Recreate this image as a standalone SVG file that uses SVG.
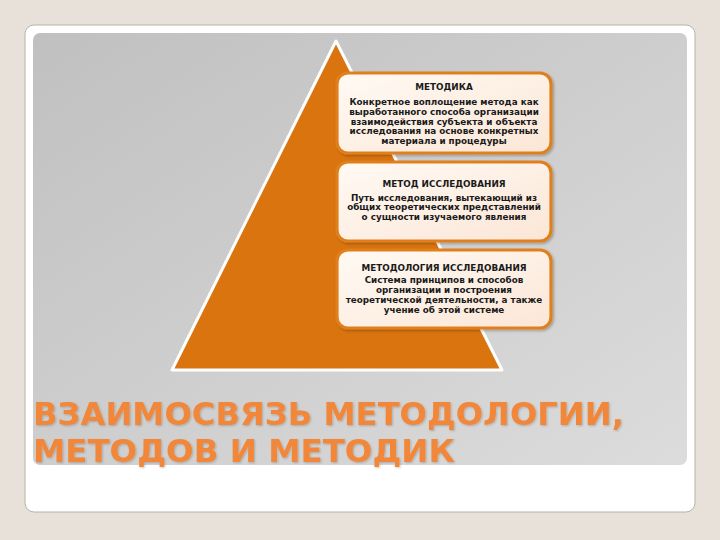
<svg xmlns="http://www.w3.org/2000/svg" width="720" height="540" viewBox="0 0 720 540">
<defs>
<linearGradient id="panel" x1="0" y1="0" x2="1" y2="1">
<stop offset="0" stop-color="#c0c0c0"/>
<stop offset="1" stop-color="#dcdcdc"/>
</linearGradient>
<linearGradient id="boxfill" x1="0" y1="0" x2="1" y2="1">
<stop offset="0" stop-color="#fffaf4"/>
<stop offset="1" stop-color="#fbe6d6"/>
</linearGradient>
<filter id="sh" x="-10%" y="-10%" width="130%" height="130%">
<feDropShadow dx="1.5" dy="1.5" stdDeviation="1" flood-color="#000" flood-opacity="0.25"/>
</filter>
<filter id="tsh" x="-5%" y="-20%" width="110%" height="140%">
<feDropShadow dx="1" dy="1" stdDeviation="0.8" flood-color="#000" flood-opacity="0.2"/>
</filter>
</defs>
<style>
.box{fill:url(#boxfill);stroke:#e0801e;stroke-width:3.2;filter:url(#sh)}
.t{font-family:"DejaVu Sans",Verdana,sans-serif;font-weight:bold;font-size:8.8px;fill:#1a1a1a;text-anchor:middle}
.h{font-size:8.8px}
.title{font-family:"DejaVu Sans",Verdana,sans-serif;font-weight:bold;font-size:32px;fill:#f0873a;filter:url(#tsh)}
</style>
<rect width="720" height="540" fill="#e7e1d9"/>
<rect x="25" y="25" width="670" height="487" rx="9" fill="#ffffff" stroke="#b8b2aa" stroke-width="1"/>
<rect x="33" y="33" width="654" height="432" rx="7" fill="url(#panel)"/>
<g id="pyramid">
<polygon points="336,41 172,370 502,370" fill="#d9740f" stroke="#ffffff" stroke-width="3" stroke-linejoin="round"/>
</g>
<g id="connectors"/>
<g id="node-metodika">
<rect class="box" x="337" y="73" width="214" height="80" rx="11"/>
<text class="t h" x="444" y="90">МЕТОДИКА</text>
<text class="t" x="444" y="105">Конкретное воплощение метода как</text>
<text class="t" x="444" y="115">выработанного способа организации</text>
<text class="t" x="444" y="124.5">взаимодействия субъекта и объекта</text>
<text class="t" x="444" y="134">исследования на основе конкретных</text>
<text class="t" x="444" y="143.5">материала и процедуры</text>
</g>
<g id="node-metod">
<rect class="box" x="337" y="162" width="214" height="79" rx="11"/>
<text class="t h" x="444" y="187">МЕТОД ИССЛЕДОВАНИЯ</text>
<text class="t" x="444" y="200.5">Путь исследования, вытекающий из</text>
<text class="t" x="444" y="210">общих теоретических представлений</text>
<text class="t" x="444" y="219.5">о сущности изучаемого явления</text>
</g>
<g id="node-metodologiya">
<rect class="box" x="337" y="250" width="214" height="78" rx="11"/>
<text class="t h" x="444" y="271">МЕТОДОЛОГИЯ ИССЛЕДОВАНИЯ</text>
<text class="t" x="444" y="283">Система принципов и способов</text>
<text class="t" x="444" y="293">организации и построения</text>
<text class="t" x="444" y="302.5">теоретической деятельности, а также</text>
<text class="t" x="444" y="312.5">учение об этой системе</text>
</g>
<g id="heading">
<text class="title" x="33" y="425" textLength="591" lengthAdjust="spacingAndGlyphs">ВЗАИМОСВЯЗЬ МЕТОДОЛОГИИ,</text>
<text class="title" x="33" y="462" textLength="422" lengthAdjust="spacingAndGlyphs">МЕТОДОВ И МЕТОДИК</text>
</g>
</svg>
